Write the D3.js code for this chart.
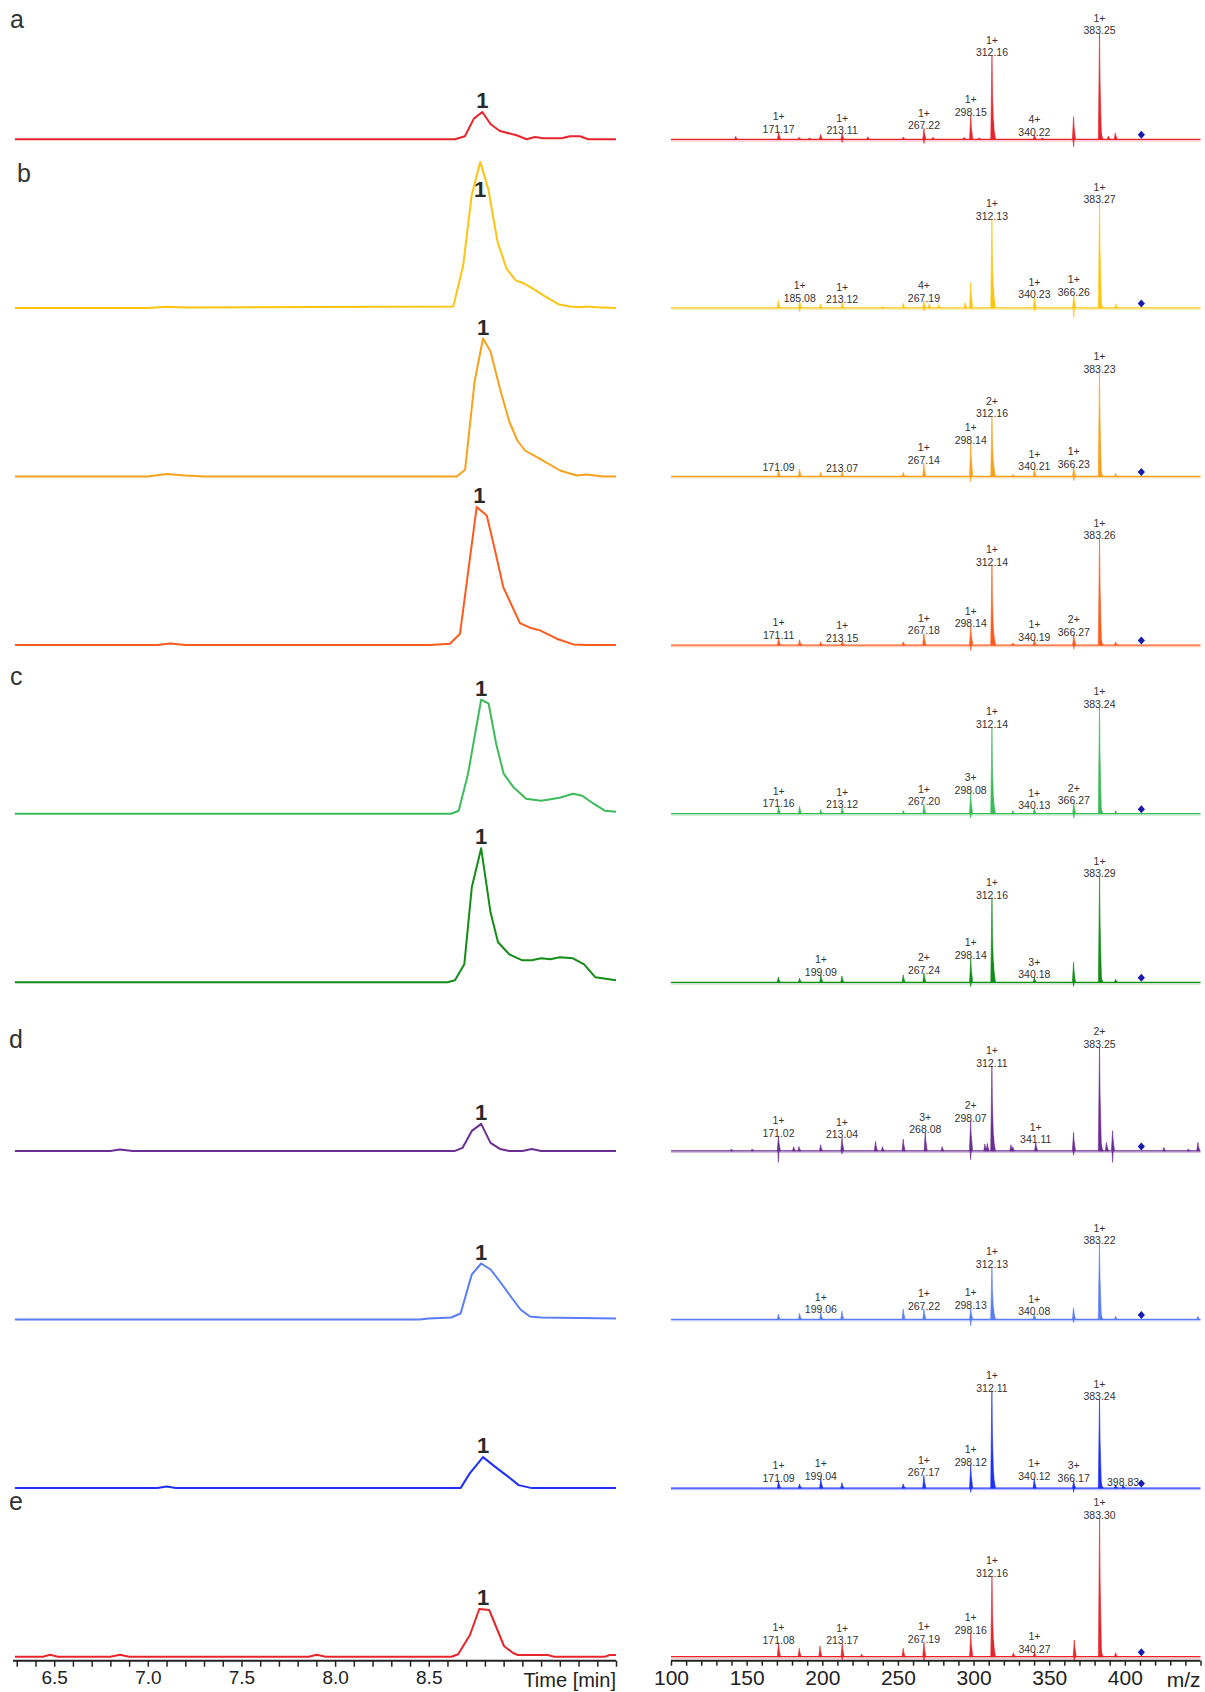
<!DOCTYPE html>
<html>
<head>
<meta charset="utf-8">
<script src="https://cdn.jsdelivr.net/npm/d3@7/dist/d3.min.js"></script>
<style>
  body { margin: 0; background: #fff; }
  svg { display: block; }
  text { font-family: "Liberation Sans", Arial, sans-serif; fill: #222; }
</style>
</head>
<body>
<svg id="chart" width="1205" height="1692"></svg>
<script>
// ---------- trace colours (one per row, top to bottom) ----------
const rowColors = ['#e6252c', '#fdc511', '#f8a11c', '#fd5a1c', '#3dbb5b',
                   '#138d17', '#6b2e93', '#5a7cf4', '#1e30f5', '#e6252c'];

// panel letters and the row each one sits over
const panelLetters = ['a', 'b', 'c', 'd', 'e'];
const panelRows    = [0, 1, 4, 6, 9];

// ---------- extracted ion chromatograms: retention time (min) / intensity ----------
const rtA  = [6.29, 8.64, 8.693, 8.741, 8.786, 8.831, 8.88, 8.969, 9.023, 9.067, 9.111, 9.21, 9.254, 9.308, 9.352, 9.5];
const intA = [0, 0, 3, 20.7, 27.3, 15, 8.3, 4, 0, 2.3, 1, 1, 3, 3, 0, 0];

const rtB  = [6.29, 7.0, 7.1, 7.2, 8.631, 8.684, 8.729, 8.775, 8.818, 8.868, 8.916, 8.966, 9.008, 9.058, 9.129, 9.197, 9.254, 9.308, 9.343, 9.396, 9.5];
const intB = [0, 0, 1.2, 0.5, 1.3, 42.3, 112.3, 146, 119, 65.6, 39, 27.3, 24.6, 19, 10.6, 3.3, 1.3, 0.6, 1.3, 0.6, 0];

const rtC1  = [6.29, 7.0, 7.1, 7.2, 7.3, 8.65, 8.694, 8.711, 8.745, 8.79, 8.83, 8.88, 8.93, 8.973, 9.014, 9.094, 9.201, 9.29, 9.343, 9.432, 9.5];
const intC1 = [0, 0, 2.5, 1, 0, 0, 6.7, 36, 95, 138, 125, 88, 55, 36, 26, 17.7, 6, 1, 2, 0, 0];

const rtC2  = [6.29, 7.05, 7.12, 7.2, 8.507, 8.613, 8.667, 8.756, 8.81, 8.854, 8.898, 8.987, 9.04, 9.094, 9.183, 9.272, 9.343, 9.5];
const intC2 = [0, 0, 1.5, 0, 0, 1.4, 11.4, 138, 129.7, 94.7, 58, 22, 17.4, 14.7, 6.4, 0.7, 0, 0];

const rtC3  = [6.29, 8.62, 8.66, 8.71, 8.78, 8.82, 8.86, 8.9, 8.95, 9.02, 9.1, 9.2, 9.27, 9.32, 9.38, 9.44, 9.5];
const intC3 = [0, 0, 3, 40, 114, 110, 70, 40, 27, 15, 13, 16, 20, 18, 10, 3, 2];

const rtC4  = [6.29, 8.6, 8.64, 8.69, 8.73, 8.78, 8.83, 8.87, 8.93, 9.0, 9.05, 9.1, 9.15, 9.2, 9.27, 9.33, 9.39, 9.5];
const intC4 = [0, 0, 2, 18, 95, 134, 70, 40, 28, 22, 22, 24, 23, 25, 24, 18, 5, 2];

const rtD1  = [6.29, 6.8, 6.85, 6.92, 8.64, 8.68, 8.73, 8.78, 8.83, 8.88, 8.93, 9.0, 9.05, 9.1, 9.5];
const intD1 = [0, 0, 1.5, 0, 0, 3, 20, 27, 8, 2, 0, 0, 2, 0, 0];

const rtD2  = [6.29, 8.45, 8.5, 8.62, 8.67, 8.73, 8.78, 8.83, 8.88, 8.93, 8.99, 9.04, 9.1, 9.5];
const intD2 = [0, 0, 1, 2, 6, 45, 56, 50, 38, 25, 10, 3, 2, 1];

const rtD3  = [6.29, 7.05, 7.1, 7.15, 8.67, 8.72, 8.79, 8.85, 8.92, 8.98, 9.05, 9.5];
const intD3 = [0, 0, 1.5, 0, 0, 15, 31, 22, 12, 3, 0, 0];

const rtE  = [6.29, 6.44, 6.478, 6.52, 6.8, 6.852, 6.9, 7.86, 7.902, 7.95, 8.622, 8.657, 8.72, 8.77, 8.823, 8.902, 8.95, 8.976, 9.136, 9.17, 9.44, 9.467, 9.5];
const intE = [0, 0, 2, 0, 0, 2, 0, 0, 2, 0, 0, 2.4, 21.7, 47.7, 46.7, 10.7, 3.7, 1.7, 1.7, 0, 0, 1.7, 1.7];

// height (intensity) where the "1" peak tag sits, per row
const peakTagLevel = [27.3, 107, 138, 138, 114, 134, 27, 56, 31, 47.7];
const peakTagTime  = [8.786, 8.775, 8.79, 8.77, 8.78, 8.78, 8.78, 8.78, 8.79, 8.79];

// ---------- MS/MS spectra: m/z / relative abundance (%) ----------
const mzA = [142.8, 171.17, 184.6, 191.5, 198.9, 213.11, 230.1, 253.5, 267.22, 273.1, 293.7, 298.15, 303.6, 312.16, 313.2, 340.22, 345.4, 366.1, 383.25, 384.4, 389.1, 393.7];
const abA = [2.8, 7.2, 1.9, 1.4, 4.7, 5.7, 2.4, 2, 10.4, 1.9, 1.9, 23, 1.4, 79.5, 17, 4.1, 1.4, 21.3, 100, 6, 3, 6];
const dipMzA = [213.11, 267.22, 366.1];
const dipA   = [3, 4, 7];

const mzB = [170.9, 185.08, 198.9, 213.12, 239.8, 253.5, 267.19, 270.8, 277, 294.4, 298.1, 312.13, 313.2, 340.23, 366.26, 383.27, 384.4, 394.1];
const abB = [7.2, 6.9, 3.8, 5.3, 1.3, 4.4, 6.9, 3.8, 3, 5, 24.2, 84, 19.4, 10, 12.5, 99.6, 5, 3.8];
const dipMzB = [185.08, 267.19, 340.23, 366.26];
const dipB   = [3.8, 3, 3, 8.9];

const mzC1 = [171.09, 185, 199, 213.07, 253.5, 267.14, 298.14, 312.16, 313.2, 326, 340.21, 366.23, 383.23, 384.4, 393.9];
const abC1 = [6, 7, 4, 5, 4, 13, 32, 57, 14, 2, 7, 9, 99, 5, 3];
const dipMzC1 = [298.14, 366.23];
const dipC1   = [5, 4];

const mzC2 = [171.11, 185, 199, 213.15, 253.5, 267.18, 298.14, 312.14, 313.2, 326, 340.19, 366.27, 383.26, 384.4, 393.9];
const abC2 = [7, 5, 3, 4, 3, 11, 18, 76, 15, 2, 5, 10, 101, 5, 3];
const dipMzC2 = [298.14, 366.27];
const dipC2   = [5, 4];

const mzC3 = [171.16, 185, 199, 213.12, 253.5, 267.2, 298.08, 312.14, 313.2, 326, 340.13, 366.27, 383.24, 384.4, 393.9];
const abC3 = [7, 7, 4, 6, 3, 9, 20, 82, 15, 3, 5, 10, 101, 5, 3];
const dipMzC3 = [298.08, 366.27];
const dipC3   = [4, 4];

const mzC4 = [171, 185, 199.09, 213, 253.5, 267.24, 298.14, 312.16, 313.2, 340.18, 366.1, 383.29, 384.4, 393.9];
const abC4 = [5, 4, 7, 6, 7, 9, 23, 80, 19, 5, 19, 100, 5, 3];
const dipMzC4 = [298.14, 366.1];
const dipC4   = [4, 4];

const mzD1 = [139.9, 153.6, 171.02, 181.1, 184.6, 198.9, 213.04, 235.2, 239.8, 253.5, 268.08, 279.2, 298.07, 307.5, 309.1, 312.11, 313.2, 324.7, 325.9, 341.11, 366.1, 383.25, 384.4, 387.9, 391.9, 425.8, 441.9, 448.3];
const abD1 = [1.8, 1.8, 14.3, 4, 4, 5.8, 12.7, 9, 4, 11.1, 17.5, 4, 28.5, 6.5, 7.1, 80.4, 14.2, 5.8, 4, 8, 17.5, 98.3, 6, 8, 19, 3.3, 1.9, 8];
const dipMzD1 = [171.02, 213.04, 298.07, 366.1, 391.9];
const dipD1   = [10.8, 3, 8.2, 4, 10.8];

const mzD2 = [171, 185, 199.06, 213, 253.5, 267.22, 298.13, 312.13, 313.2, 340.08, 366.1, 383.22, 384.4, 393.9, 448.3];
const abD2 = [5, 6, 7, 8, 10, 10, 11, 50, 11, 5, 11, 72, 4, 3, 3];
const dipMzD2 = [298.13, 366.1];
const dipD2   = [6, 3];

const mzD3 = [171.09, 185, 199.04, 213, 253.5, 267.17, 298.12, 312.11, 313.2, 340.12, 366.17, 383.24, 384.4, 393.9, 398.83];
const abD3 = [7, 4, 9, 5, 4, 12, 22, 92, 14, 9, 7, 84, 5, 3, 3];
const dipMzD3 = [298.12, 366.17];
const dipD3   = [4, 4];

const mzE = [171.08, 184.8, 198.5, 213.17, 226, 253.5, 267.19, 298.16, 312.16, 313.2, 326.3, 340.27, 366.6, 383.3, 384.4, 393.9];
const abE = [13.2, 7.9, 10.1, 12.6, 2.5, 7.9, 14.2, 22.6, 76.4, 15, 3.8, 4.7, 15.8, 131, 6, 3.8];
const dipMzE = [213.17, 267.19, 366.6];
const dipE   = [3.1, 4.7, 4.7];

// annotated fragments: m/z and charge state, per row
const lblMzA = [171.17, 213.11, 267.22, 298.15, 312.16, 340.22, 383.25];
const lblZA  = ['1+', '1+', '1+', '1+', '1+', '4+', '1+'];
const lblMzB = [185.08, 213.12, 267.19, 312.13, 340.23, 366.26, 383.27];
const lblZB  = ['1+', '1+', '4+', '1+', '1+', '1+', '1+'];
const lblMzC1 = [171.09, 213.07, 267.14, 298.14, 312.16, 340.21, 366.23, 383.23];
const lblZC1  = ['', '', '1+', '1+', '2+', '1+', '1+', '1+'];
const lblMzC2 = [171.11, 213.15, 267.18, 298.14, 312.14, 340.19, 366.27, 383.26];
const lblZC2  = ['1+', '1+', '1+', '1+', '1+', '1+', '2+', '1+'];
const lblMzC3 = [171.16, 213.12, 267.20, 298.08, 312.14, 340.13, 366.27, 383.24];
const lblZC3  = ['1+', '1+', '1+', '3+', '1+', '1+', '2+', '1+'];
const lblMzC4 = [199.09, 267.24, 298.14, 312.16, 340.18, 383.29];
const lblZC4  = ['1+', '2+', '1+', '1+', '3+', '1+'];
const lblMzD1 = [171.02, 213.04, 268.08, 298.07, 312.11, 341.11, 383.25];
const lblZD1  = ['1+', '1+', '3+', '2+', '1+', '1+', '2+'];
const lblMzD2 = [199.06, 267.22, 298.13, 312.13, 340.08, 383.22];
const lblZD2  = ['1+', '1+', '1+', '1+', '1+', '1+'];
const lblMzD3 = [171.09, 199.04, 267.17, 298.12, 312.11, 340.12, 366.17, 383.24, 398.83];
const lblZD3  = ['1+', '1+', '1+', '1+', '1+', '1+', '3+', '1+', ''];
const lblMzE = [171.08, 213.17, 267.19, 298.16, 312.16, 340.27, 383.3];
const lblZE  = ['1+', '1+', '1+', '1+', '1+', '1+', '1+'];

// precursor ion marker (m/z)
const precursorMz = 410.9;

// axis ticks
const timeTicks = [6.5, 7.0, 7.5, 8.0, 8.5];
const mzTicks   = [100, 150, 200, 250, 300, 350, 400];

// ---------- assemble per-row records ----------
const chromRows = [[rtA, intA], [rtB, intB], [rtC1, intC1], [rtC2, intC2], [rtC3, intC3],
                   [rtC4, intC4], [rtD1, intD1], [rtD2, intD2], [rtD3, intD3], [rtE, intE]];
const specRows = [[mzA, abA, dipMzA, dipA, lblMzA, lblZA], [mzB, abB, dipMzB, dipB, lblMzB, lblZB],
                  [mzC1, abC1, dipMzC1, dipC1, lblMzC1, lblZC1], [mzC2, abC2, dipMzC2, dipC2, lblMzC2, lblZC2],
                  [mzC3, abC3, dipMzC3, dipC3, lblMzC3, lblZC3], [mzC4, abC4, dipMzC4, dipC4, lblMzC4, lblZC4],
                  [mzD1, abD1, dipMzD1, dipD1, lblMzD1, lblZD1], [mzD2, abD2, dipMzD2, dipD2, lblMzD2, lblZD2],
                  [mzD3, abD3, dipMzD3, dipD3, lblMzD3, lblZD3], [mzE, abE, dipMzE, dipE, lblMzE, lblZE]];

// ---------- layout ----------
const svg = d3.select('#chart');
const firstBase = 139.3, rowStep = 168.6;
const baseY = i => firstBase + i * rowStep;
const axisY = baseY(9) + 4;

const xT = d3.scaleLinear().domain([6.28, 9.5]).range([13, 616]);
const xM = d3.scaleLinear().domain([100, 450]).range([671, 1200.5]);
const hT = d3.scaleLinear().domain([0, 100]).range([0, 100]);   // chromatogram intensity -> px
const hM = d3.scaleLinear().domain([0, 100]).range([0, 106]);   // relative abundance -> px

// ---------- chromatograms ----------
chromRows.forEach(([rt, it], i) => {
  const y0 = baseY(i);
  const pts = rt.map((t, k) => [t, it[k]]);
  const line = d3.line().x(d => xT(d[0])).y(d => y0 - hT(d[1]));
  svg.append('path').attr('d', line(pts))
     .attr('fill', 'none').attr('stroke', rowColors[i]).attr('stroke-width', 2)
     .attr('stroke-linejoin', 'round');
  svg.append('text')
     .attr('x', xT(peakTagTime[i])).attr('y', y0 - hT(peakTagLevel[i]) - 4)
     .attr('text-anchor', 'middle').attr('font-size', 22).attr('font-weight', 'bold')
     .style('fill', '#2a2a2a').text('1');
});

// ---------- spectra ----------
specRows.forEach(([mz, ab, dmz, dab, lmz, lz], i) => {
  const y0 = baseY(i);
  const col = rowColors[i];
  const g = svg.append('g');
  // baseline trace
  g.append('line').attr('x1', xM(100)).attr('x2', xM(450)).attr('y1', y0 + 1.5).attr('y2', y0 + 1.5)
   .attr('stroke', col).attr('stroke-opacity', 0.3).attr('stroke-width', 1.2);
  g.append('line').attr('x1', xM(100)).attr('x2', xM(450)).attr('y1', y0).attr('y2', y0)
   .attr('stroke', col).attr('stroke-width', 1.3);
  // peaks as narrow filled profiles
  const peak = (m, a) => `M${xM(m - 0.8)},${y0}L${xM(m)},${y0 - hM(a)}L${xM(m + 0.35)},${y0 - hM(a) * 0.55}L${xM(m + 1.3)},${y0}Z`;
  g.selectAll('path.pk').data(mz.map((m, k) => [m, ab[k]])).join('path').attr('class', 'pk')
   .attr('d', d => peak(d[0], d[1])).attr('fill', col).attr('stroke', col).attr('stroke-width', 0.6);
  const dip = (m, a) => `M${xM(m - 0.4)},${y0}L${xM(m)},${y0 + hM(a)}L${xM(m + 0.4)},${y0}Z`;
  g.selectAll('path.dp').data(dmz.map((m, k) => [m, dab[k]])).join('path').attr('class', 'dp')
   .attr('d', d => dip(d[0], d[1])).attr('fill', col).attr('stroke', col).attr('stroke-width', 0.6);
  // precursor marker
  const px = xM(precursorMz), py = y0 - 4.5;
  g.append('path').attr('d', `M${px},${py - 4}L${px + 3.6},${py}L${px},${py + 4}L${px - 3.6},${py}Z`)
   .attr('fill', '#1a1ab0');
  // fragment annotations
  lmz.forEach((m, k) => {
    const idx = mz.indexOf(m);
    const top = y0 - hM(ab[idx]);
    g.append('text').attr('x', xM(m)).attr('y', top + 1).attr('text-anchor', 'middle')
     .attr('font-size', 10.5).style('fill', '#333').text(m.toFixed(2));
    if (lz[k]) g.append('text').attr('x', xM(m)).attr('y', top - 11.5).attr('text-anchor', 'middle')
     .attr('font-size', 10.5).style('fill', '#333').text(lz[k]);
  });
});

// ---------- panel letters ----------
const letterOffset = [111, 125.6, 129, 103, 147];
const letterX = [10, 17, 10, 9, 9];
panelLetters.forEach((L, k) => {
  svg.append('text').attr('x', letterX[k]).attr('y', baseY(panelRows[k]) - letterOffset[k])
     .attr('font-size', 25).style('fill', '#333').text(L);
});

// ---------- axes ----------
const axT = d3.axisBottom(xT).tickValues(d3.range(63, 96).map(v => v / 10)).tickSize(6)
  .tickFormat(v => timeTicks.some(t => Math.abs(t - v) < 1e-6) ? d3.format('.1f')(v) : '');
const gT = svg.append('g').attr('transform', `translate(0,${axisY})`).call(axT);
gT.select('.domain').attr('stroke', '#222').attr('stroke-width', 2).attr('d', `M${xT(6.28)},0H${xT(9.5)}`);
gT.selectAll('.tick line').attr('stroke', '#222').attr('stroke-width', 1.5);
gT.selectAll('.tick text').attr('font-size', 19).attr('font-family', '"Liberation Sans", Arial, sans-serif')
  .style('fill', '#222').attr('dy', '0.9em').attr('y', 6);
svg.append('text').attr('x', xT(9.5)).attr('y', axisY + 26).attr('text-anchor', 'end')
   .attr('font-size', 20).style('fill', '#222').text('Time [min]');

const axM = d3.axisBottom(xM).tickValues(d3.range(100, 451, 10)).tickSize(5)
  .tickFormat(v => mzTicks.includes(v) ? String(v) : '');
const gM = svg.append('g').attr('transform', `translate(0,${axisY})`).call(axM);
gM.select('.domain').attr('stroke', '#222').attr('stroke-width', 2).attr('d', `M${xM(100)},0H${xM(450)}`);
gM.selectAll('.tick line').attr('stroke', '#222').attr('stroke-width', 1.5);
gM.selectAll('.tick text').attr('font-size', 21).attr('font-family', '"Liberation Sans", Arial, sans-serif')
  .style('fill', '#222').attr('dy', '0.9em').attr('y', 5);
svg.append('text').attr('x', xM(450)).attr('y', axisY + 26).attr('text-anchor', 'end')
   .attr('font-size', 21).style('fill', '#222').text('m/z');
</script>
</body>
</html>
